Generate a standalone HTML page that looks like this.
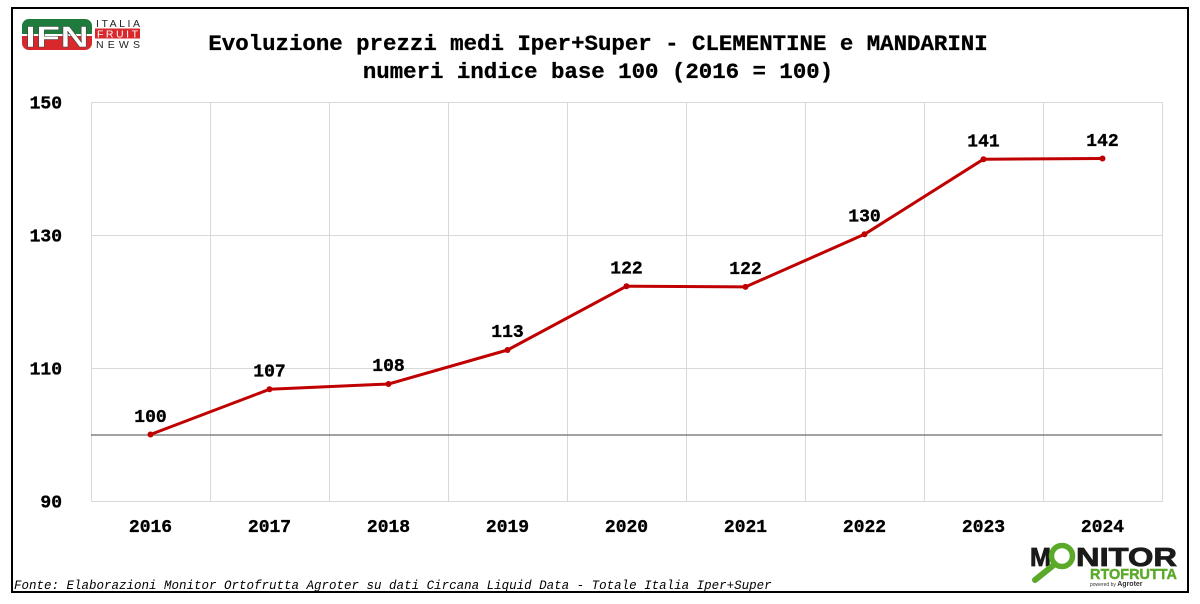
<!DOCTYPE html>
<html>
<head>
<meta charset="utf-8">
<style>
html,body{margin:0;padding:0;background:#fff;}
body{width:1200px;height:604px;overflow:hidden;}
svg{display:block;}
.mono{font-family:"Liberation Mono","DejaVu Sans Mono",monospace;}
</style>
</head>
<body>
<svg width="1200" height="604" viewBox="0 0 1200 604" xmlns="http://www.w3.org/2000/svg">
  <rect x="0" y="0" width="1200" height="604" fill="#fff"/>
  <!-- frame -->
  <rect x="12" y="8" width="1176" height="584" fill="#fff" stroke="#000" stroke-width="2"/>

  <!-- IFN logo -->
  <g>
    <clipPath id="ifnclip"><rect x="22" y="19" width="70" height="31" rx="7" ry="7"/></clipPath>
    <g clip-path="url(#ifnclip)">
      <rect x="22" y="19" width="70" height="15" fill="#1e7b3c"/>
      <rect x="22" y="34" width="70" height="2" fill="#ffffff"/>
      <rect x="22" y="36" width="70" height="14" fill="#d8282b"/>
    </g>
    <text x="57" y="47" text-anchor="middle" font-family="Liberation Sans, sans-serif" font-weight="bold" font-size="30" fill="#fff" stroke="#444" stroke-width="0.5" textLength="64" lengthAdjust="spacingAndGlyphs">IFN</text>
    <text x="96" y="27" font-family="Liberation Sans, sans-serif" font-size="10.5" fill="#222" textLength="44" lengthAdjust="spacing">ITALIA</text>
    <rect x="95" y="28.5" width="45" height="10" fill="#d8282b"/>
    <text x="97" y="37.5" font-family="Liberation Sans, sans-serif" font-size="10.5" fill="#fff" textLength="41" lengthAdjust="spacing">FRUIT</text>
    <text x="96" y="48" font-family="Liberation Sans, sans-serif" font-size="10.5" fill="#222" textLength="44" lengthAdjust="spacing">NEWS</text>
  </g>

  <!-- title -->
  <g class="mono" font-size="22.4" font-weight="bold" fill="#000" stroke="#000" stroke-width="0.3" text-anchor="middle">
    <text x="598" y="50">Evoluzione prezzi medi Iper+Super - CLEMENTINE e MANDARINI</text>
    <text x="598" y="78">numeri indice base 100 (2016 = 100)</text>
  </g>

  <!-- plot area -->
  <rect x="91.5" y="102.5" width="1071" height="399" fill="none" stroke="#d9d9d9" stroke-width="1"/>
  <g stroke="#d9d9d9" stroke-width="1">
    <line x1="91" y1="235.5" x2="1162" y2="235.5"/>
    <line x1="91" y1="368.5" x2="1162" y2="368.5"/>
    <line x1="210.5" y1="102" x2="210.5" y2="501"/>
    <line x1="329.5" y1="102" x2="329.5" y2="501"/>
    <line x1="448.5" y1="102" x2="448.5" y2="501"/>
    <line x1="567.5" y1="102" x2="567.5" y2="501"/>
    <line x1="686.5" y1="102" x2="686.5" y2="501"/>
    <line x1="805.5" y1="102" x2="805.5" y2="501"/>
    <line x1="924.5" y1="102" x2="924.5" y2="501"/>
    <line x1="1043.5" y1="102" x2="1043.5" y2="501"/>
  </g>
  <!-- base 100 line -->
  <line x1="91" y1="435" x2="1162" y2="435" stroke="#6b6b6b" stroke-width="1.3"/>

  <!-- y labels -->
  <g class="mono" font-size="18" font-weight="bold" fill="#000" stroke="#000" stroke-width="0.35" text-anchor="end">
    <text x="62" y="108.5">150</text>
    <text x="62" y="241.5">130</text>
    <text x="62" y="374.5">110</text>
    <text x="62" y="507.5">90</text>
  </g>

  <!-- x labels -->
  <g class="mono" font-size="18" font-weight="bold" fill="#000" stroke="#000" stroke-width="0.35" text-anchor="middle">
    <text x="150.5" y="532">2016</text>
    <text x="269.5" y="532">2017</text>
    <text x="388.5" y="532">2018</text>
    <text x="507.5" y="532">2019</text>
    <text x="626.5" y="532">2020</text>
    <text x="745.5" y="532">2021</text>
    <text x="864.5" y="532">2022</text>
    <text x="983.5" y="532">2023</text>
    <text x="1102.5" y="532">2024</text>
  </g>

  <!-- series -->
  <polyline fill="none" stroke="#c00000" stroke-width="3" stroke-linejoin="round" stroke-linecap="round"
    points="150.5,434.5 269.5,389.3 388.5,384 507.5,350 626.5,286.2 745.5,286.9 864.5,234.3 983.5,159.2 1102.5,158.5"/>
  <g fill="#c00000">
    <circle cx="150.5" cy="434.5" r="3"/>
    <circle cx="269.5" cy="389.3" r="3"/>
    <circle cx="388.5" cy="384" r="3"/>
    <circle cx="507.5" cy="350" r="3"/>
    <circle cx="626.5" cy="286.2" r="3"/>
    <circle cx="745.5" cy="286.9" r="3"/>
    <circle cx="864.5" cy="234.3" r="3"/>
    <circle cx="983.5" cy="159.2" r="3"/>
    <circle cx="1102.5" cy="158.5" r="3"/>
  </g>

  <!-- data labels -->
  <g class="mono" font-size="18" font-weight="bold" fill="#000" stroke="#000" stroke-width="0.35" text-anchor="middle">
    <text x="150.5" y="422">100</text>
    <text x="269.5" y="376.5">107</text>
    <text x="388.5" y="371">108</text>
    <text x="507.5" y="337">113</text>
    <text x="626.5" y="273.5">122</text>
    <text x="745.5" y="274">122</text>
    <text x="864.5" y="221.5">130</text>
    <text x="983.5" y="146.5">141</text>
    <text x="1102.5" y="146">142</text>
  </g>

  <!-- footer -->
  <text class="mono" x="14" y="589" font-size="12.5" font-style="italic" fill="#000">Fonte: Elaborazioni Monitor Ortofrutta Agroter su dati Circana Liquid Data - Totale Italia Iper+Super</text>

  <!-- Monitor Ortofrutta logo -->
  <g>
    <text x="1030" y="566" font-family="Liberation Sans, sans-serif" font-weight="bold" font-size="26" fill="#1a1a1a" stroke="#1a1a1a" stroke-width="0.8" textLength="21" lengthAdjust="spacingAndGlyphs">M</text>
    <circle cx="1062" cy="556" r="10.5" fill="none" stroke="#5aa928" stroke-width="5.5"/>
    <line x1="1055" y1="564" x2="1035" y2="580" stroke="#5aa928" stroke-width="6" stroke-linecap="round"/>
    <text x="1076" y="566" font-family="Liberation Sans, sans-serif" font-weight="bold" font-size="26" fill="#1a1a1a" stroke="#1a1a1a" stroke-width="0.8" textLength="101" lengthAdjust="spacingAndGlyphs">NITOR</text>
    <text x="1090" y="579" font-family="Liberation Sans, sans-serif" font-weight="bold" font-size="14.5" fill="#5aa928" stroke="#5aa928" stroke-width="0.4" textLength="87" lengthAdjust="spacingAndGlyphs">RTOFRUTTA</text>
    <text x="1090" y="586" font-family="Liberation Sans, sans-serif" font-size="5" fill="#333">powered by <tspan font-weight="bold" font-size="7">Agroter</tspan></text>
  </g>
</svg>
</body>
</html>
